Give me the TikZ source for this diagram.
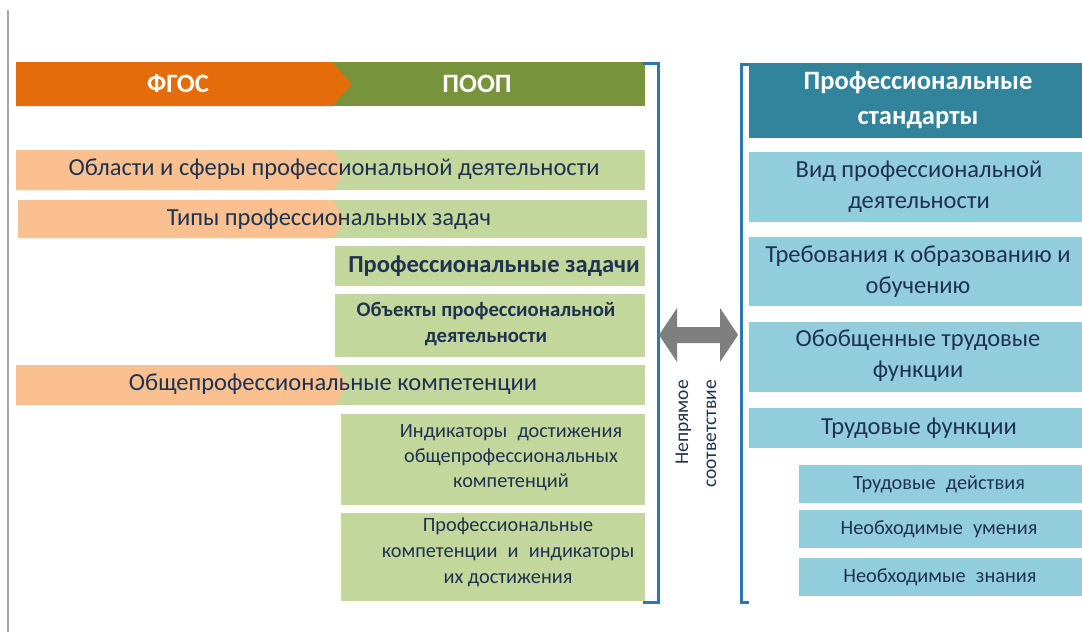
\documentclass[tikz,border=0pt]{standalone}
\usepackage{fontspec}
\setmainfont{Carlito}
\definecolor{ddorange}{HTML}{E46C0A}
\definecolor{ddgreen}{HTML}{77933C}
\definecolor{lorange}{HTML}{FAC090}
\definecolor{lgreen}{HTML}{C3D69B}
\definecolor{teal2}{HTML}{31849B}
\definecolor{lblue}{HTML}{92CDDC}
\definecolor{arrgray}{HTML}{7F7F7F}
\definecolor{brblue}{HTML}{2E75B6}
\definecolor{txt}{HTML}{1F3350}
\begin{document}
\begin{tikzpicture}[x=1pt,y=-1pt,
  box/.style={inner sep=0pt, outer sep=0pt, anchor=center},
  gbox/.style={box, fill=lgreen},
  bbox/.style={box, fill=lblue},
  lbl/.style={inner sep=0pt, text=txt, align=center, font=\fontsize{24.5}{31}\selectfont},
  hdr/.style={inner sep=0pt, text=white, align=center, font=\bfseries\fontsize{26.5}{35}\selectfont},
  small/.style={inner sep=0pt, text=txt, align=center, font=\fontsize{20.3}{25.5}\selectfont},
  brk/.style={draw=brblue, line width=3pt}
]
\useasboundingbox (0,0) rectangle (1082,632);
\fill[white] (0,0) rectangle (1082,632);
\draw[gray!70, line width=2pt] (8,10) -- (8,632);

% header
\node[box, fill=ddgreen, minimum width=313pt, minimum height=44pt] (poopbar) at (488.5,84) {};
\fill[ddorange] (16,62) -- (332,62) -- (352,84) -- (332,106) -- (16,106) -- cycle;
\node[hdr] (fgos) at (178,84) {ФГОС};
\node[hdr] (poop) at (477,84) {ПООП};

% row 1
\node[gbox, minimum width=312pt, minimum height=40pt] (r1) at (489,170) {};
\fill[lorange] (16,150) -- (333,150) -- (345,170) -- (333,190) -- (16,190) -- cycle;
\node[lbl] (t1) at (334,169) {Области и сферы профессиональной деятельности};
% row 2
\node[gbox, minimum width=314pt, minimum height=38pt] (r2) at (490,219) {};
\fill[lorange] (18,200) -- (333,200) -- (345,219) -- (333,238) -- (18,238) -- cycle;
\node[lbl] (t2) at (329,219) {Типы профессиональных задач};
% row 3
\node[gbox, minimum width=310pt, minimum height=40pt] (r3) at (490,266) {};
\node[lbl, font=\bfseries\fontsize{24.5}{31}\selectfont] (t3) at (494,266) {Профессиональные задачи};
% row 4
\node[gbox, minimum width=310pt, minimum height=63pt] (r4) at (490,325.5) {};
\node[lbl, font=\bfseries\fontsize{20.7}{26}\selectfont] (t4) at (486,324) {Объекты профессиональной\\деятельности};
% row 5
\node[gbox, minimum width=310pt, minimum height=40pt] (r5) at (490,385) {};
\fill[lorange] (16,365) -- (335,365) -- (347,385) -- (335,405) -- (16,405) -- cycle;
\node[lbl] (t5) at (333,384) {Общепрофессиональные компетенции};
% row 6
\node[gbox, minimum width=304pt, minimum height=91pt] (r6) at (493,459.5) {};
\node[small, font=\fontsize{20.3}{25}\selectfont] (t6) at (511,458) {Индикаторы\enspace достижения\\общепрофессиональных\\компетенций};
% row 7
\node[gbox, minimum width=304pt, minimum height=88pt] (r7) at (493,557) {};
\node[small, font=\fontsize{20.3}{26}\selectfont] (t7) at (508,552) {Профессиональные\\компетенции\enspace и\enspace индикаторы\\их достижения};

% brackets
\draw[brk] (643,63) -- (658,63) -- (658,602) -- (643,602);
\draw[brk] (750,64) -- (741,64) -- (741,602) -- (749,602);

% double arrow
\coordinate (arr) at (698.5,335);
\fill[arrgray] (659,335) -- (677,308) -- (677,327) -- (720,327) -- (720,308) -- (738,335)
  -- (720,362) -- (720,343) -- (677,343) -- (677,362) -- cycle;
\node[inner sep=0pt, text=txt, rotate=90, align=right, font=\fontsize{19.5}{28}\selectfont] (ind) at (696,434) {Непрямое\\соответствие};

% right side
\node[box, fill=teal2, minimum width=333pt, minimum height=75pt] (ps) at (915.5,100.5) {};
\node[hdr] (pst) at (918,100) {Профессиональные\\стандарты};
\node[bbox, minimum width=333pt, minimum height=70pt] (b1) at (915.5,187) {};
\node[lbl] (tb1) at (919,187) {Вид профессиональной\\деятельности};
\node[bbox, minimum width=333pt, minimum height=69pt] (b2) at (915.5,271.5) {};
\node[lbl] (tb2) at (918,272) {Требования к образованию и\\обучению};
\node[bbox, minimum width=333pt, minimum height=70pt] (b3) at (915.5,357) {};
\node[lbl] (tb3) at (918,356) {Обобщенные трудовые\\функции};
\node[bbox, minimum width=333pt, minimum height=40pt] (b4) at (915.5,428) {};
\node[lbl] (tb4) at (919,428) {Трудовые функции};
\node[bbox, minimum width=283pt, minimum height=38pt] (b5) at (940.5,484) {};
\node[small] (tb5) at (939,484) {Трудовые\enspace действия};
\node[bbox, minimum width=283pt, minimum height=38pt] (b6) at (940.5,529) {};
\node[small] (tb6) at (939,529) {Необходимые\enspace умения};
\node[bbox, minimum width=283pt, minimum height=38pt] (b7) at (940.5,577) {};
\node[small] (tb7) at (940,577) {Необходимые\enspace знания};
\end{tikzpicture}
\end{document}
